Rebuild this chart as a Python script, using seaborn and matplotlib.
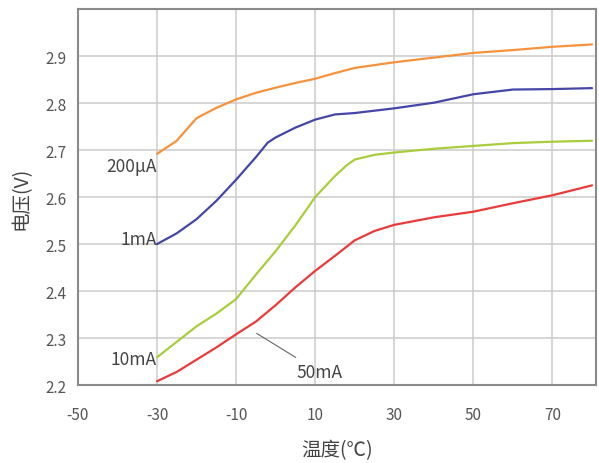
import seaborn as sns
import matplotlib.pyplot as plt
import pandas as pd

# temperature (C) vs voltage (V) for 4 currents
t_200ua = [-30, -25, -20, -15, -10, -5, 0, 5, 10, 15, 20, 30, 40, 50, 60, 70, 80]
v_200ua = [2.692, 2.72, 2.768, 2.79, 2.808, 2.822, 2.833, 2.843, 2.852, 2.864, 2.875,
           2.887, 2.897, 2.907, 2.913, 2.92, 2.925]

t_1ma = [-30, -25, -20, -15, -10, -5, -2, 0, 5, 10, 15, 20, 30, 40, 50, 60, 70, 80]
v_1ma = [2.5, 2.523, 2.553, 2.592, 2.637, 2.685, 2.716, 2.727, 2.748, 2.765, 2.776,
         2.779, 2.789, 2.801, 2.819, 2.829, 2.83, 2.832]

t_10ma = [-30, -25, -20, -15, -10, -5, 0, 5, 10, 15, 18, 20, 25, 30, 40, 50, 60, 70, 80]
v_10ma = [2.259, 2.292, 2.325, 2.352, 2.383, 2.435, 2.485, 2.54, 2.6, 2.645, 2.668,
          2.68, 2.69, 2.695, 2.703, 2.709, 2.715, 2.718, 2.72]

t_50ma = [-30, -25, -20, -15, -10, -5, 0, 5, 10, 15, 20, 25, 30, 40, 50, 60, 70, 80]
v_50ma = [2.208, 2.228, 2.254, 2.28, 2.308, 2.335, 2.37, 2.408, 2.443, 2.475, 2.508,
          2.528, 2.541, 2.557, 2.569, 2.587, 2.604, 2.625]

series = [("200μA", t_200ua, v_200ua, "#f7923c"),
          ("1mA", t_1ma, v_1ma, "#4646a8"),
          ("10mA", t_10ma, v_10ma, "#a9cd3c"),
          ("50mA", t_50ma, v_50ma, "#ec3a3a")]

sns.set_style("white")
plt.rcParams['font.family'] = ['Noto Sans CJK SC', 'DejaVu Sans']
plt.rcParams['axes.unicode_minus'] = False

fig = plt.figure(figsize=(5.99, 4.64), dpi=100)
ax = fig.add_axes([0.130, 0.168, 0.865, 0.810])

for name, t, v, c in series:
    df = pd.DataFrame({'t': t, 'v': v})
    sns.lineplot(data=df, x='t', y='v', color=c, linewidth=1.6, ax=ax)

ax.set_xlim(-50, 81)
ax.set_ylim(2.2, 3.0)
ax.set_xticks([-50, -30, -10, 10, 30, 50, 70])
ax.set_yticks([2.2, 2.3, 2.4, 2.5, 2.6, 2.7, 2.8, 2.9])
ax.set_yticklabels(['2.2', '2.3', '2.4', '2.5', '2.6', '2.7', '2.8', '2.9'])
ax.grid(True, color='#cccccc', linewidth=1.1)
ax.tick_params(length=0, labelsize=11, labelcolor='#555555')
ax.tick_params(axis='y', pad=8)
ax.tick_params(axis='x', pad=15)
for s in ax.spines.values():
    s.set_color('#8a8a8a')
    s.set_linewidth(1.5)

ax.set_xlabel('温度(℃)', fontsize=14, color='#444444', labelpad=12)
ax.set_ylabel('电压(V)', fontsize=14, color='#444444', labelpad=10)

# curve labels
lab = dict(fontsize=12.5, color='#444444', ha='right', va='center')
ax.text(-30, 2.666, '200μA', **lab)
ax.text(-30, 2.51, '1mA', **lab)
ax.text(-30, 2.255, '10mA', **lab)
ax.annotate('50mA', xy=(-4.8, 2.31), xytext=(5.2, 2.228),
            fontsize=12.5, color='#444444', va='center',
            arrowprops=dict(arrowstyle='-', color='#666666', lw=0.8, shrinkA=3, shrinkB=0))

plt.savefig("out.png", dpi=100)
